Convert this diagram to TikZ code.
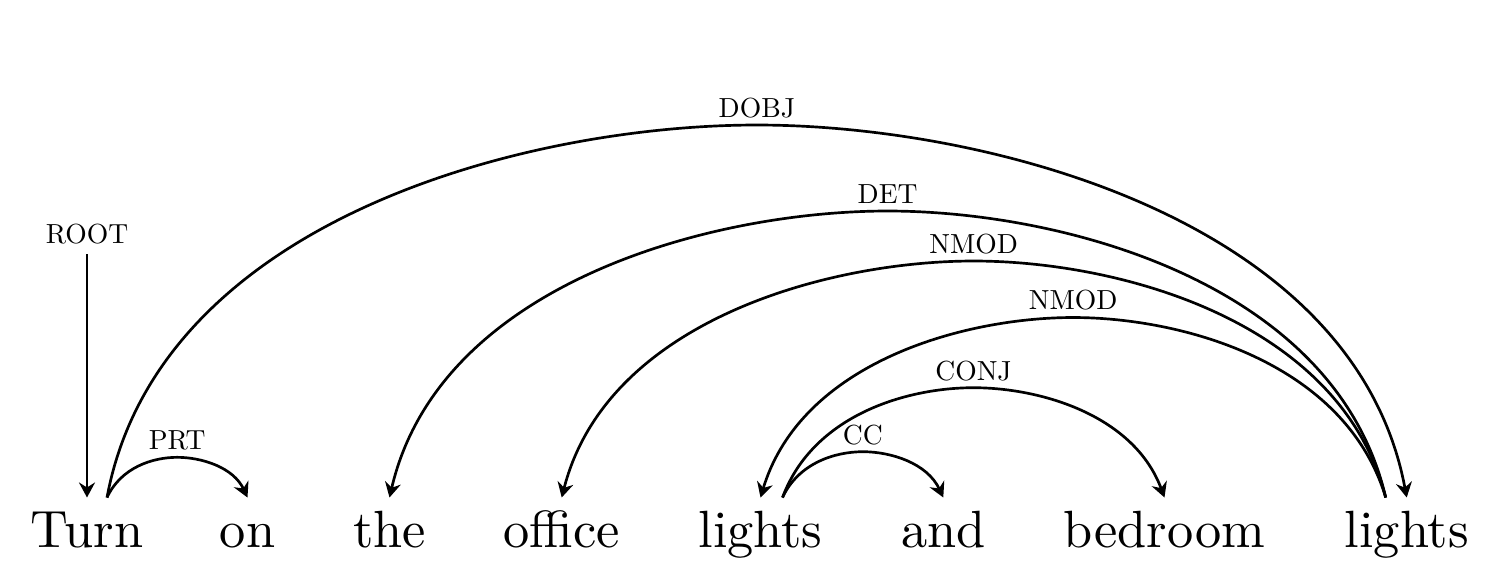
\documentclass[tikz,border=0pt]{standalone}
\usetikzlibrary{arrows.meta}
\begin{document}
\begin{tikzpicture}[x=0.25pt,y=-0.25pt,
  word/.style={anchor=base,inner sep=0pt,font=\fontsize{10}{12}\selectfont,scale=1.31},
  lab/.style={anchor=base,inner sep=0pt,font=\fontsize{10}{12}\selectfont,scale=0.69,yshift=2.75pt},
  dep/.style={line width=0.67pt,-{Stealth[length=3.75pt,width=4pt,inset=1.25pt]}}]
\useasboundingbox (0,0) rectangle (1500,581);
% words
\node[word] (w1) at (87,547) {Turn};
\node[word] (w2) at (247.5,547) {on};
\node[word] (w3) at (389.5,547) {the};
\node[word] (w4) at (561.7,547) {office};
\node[word] (w5) at (760.5,547) {lights};
\node[word] (w6) at (943.3,547) {and};
\node[word] (w7) at (1164.5,547) {bedroom};
\node[word] (w8) at (1406.7,547) {lights};
% attachment points
\path (w1.base) ++(0,-49.5) coordinate (w1t);
\path (w2.base) ++(0,-49.5) coordinate (w2t);
\path (w3.base) ++(0,-49.5) coordinate (w3t);
\path (w4.base) ++(0,-49.5) coordinate (w4t);
\path (w5.base) ++(0,-49.5) coordinate (w5t);
\path (w6.base) ++(0,-49.5) coordinate (w6t);
\path (w7.base) ++(0,-49.5) coordinate (w7t);
\path (w8.base) ++(0,-49.5) coordinate (w8t);
\path (w1.base) ++(20,-49.5) coordinate (w1r);
\path (w5.base) ++(22,-49.5) coordinate (w5r);
\path (w8.base) ++(-21,-49.5) coordinate (w8l);
% arc tops
\coordinate (a1) at (756.85,125);
\coordinate (a2) at (177.25,457.3);
\coordinate (a3) at (887.6,211);
\coordinate (a4) at (973.7,261);
\coordinate (a5) at (1073.1,317.5);
\coordinate (a6) at (973.5,387.7);
\coordinate (a7) at (862.9,451.7);
% root
\node[lab,yshift=-2.75pt] (root) at (87,243.3) {ROOT};
\path (root.base) ++(0,11) coordinate (roott);
\draw[dep] (roott) -- (w1t);
% labels
\node[lab] (l1) at (a1) {DOBJ};
\node[lab] (l2) at (a2) {PRT};
\node[lab] (l3) at (a3) {DET};
\node[lab] (l4) at (a4) {NMOD};
\node[lab] (l5) at (a5) {NMOD};
\node[lab] (l6) at (a6) {CONJ};
\node[lab] (l7) at (a7) {CC};
% edges
\draw[dep] (w1r) .. controls +(52,-279.4) and +(-227.4,0) .. (a1)
  .. controls +(227.4,0) and +(-52,-279.4) .. (w8t);
\draw[dep] (w1r) .. controls +(14.05,-30.15) and +(-24.6,0) .. (a2)
  .. controls +(24.6,0) and +(-14.05,-30.15) .. (w2t);
\draw[dep] (w8l) .. controls +(-49.8,-214.9) and +(174.3,0) .. (a3)
  .. controls +(-174.3,0) and +(49.8,-214.9) .. (w3t);
\draw[dep] (w8l) .. controls +(-45.3,-177.4) and +(144.2,0) .. (a4)
  .. controls +(-144.2,0) and +(45.3,-177.4) .. (w4t);
\draw[dep] (w8l) .. controls +(-40.6,-135) and +(109.4,0) .. (a5)
  .. controls +(-109.4,0) and +(40.6,-135) .. (w5t);
\draw[dep] (w5r) .. controls +(30.6,-82.4) and +(-66.9,0) .. (a6)
  .. controls +(66.9,0) and +(-30.6,-82.4) .. (w7t);
\draw[dep] (w5r) .. controls +(16.1,-34.4) and +(-28.1,0) .. (a7)
  .. controls +(28.1,0) and +(-16.1,-34.4) .. (w6t);
\end{tikzpicture}
\end{document}
